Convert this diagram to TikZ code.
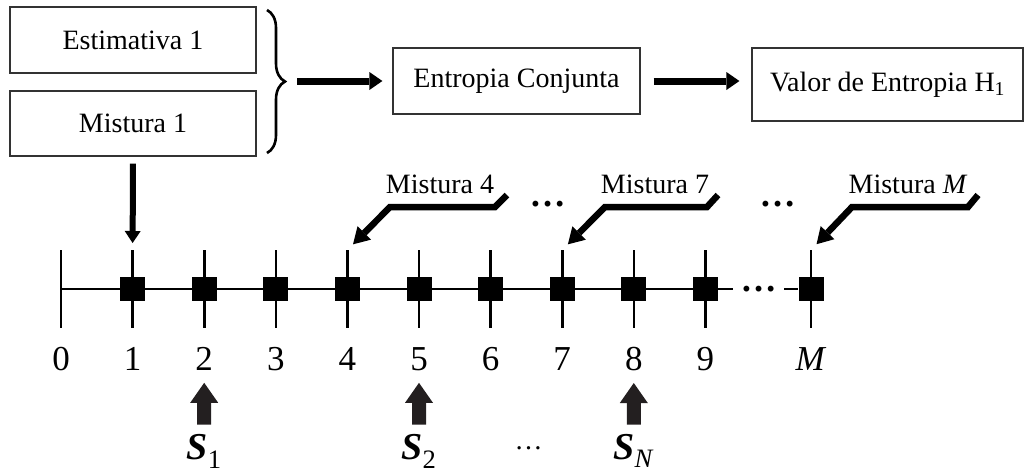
\documentclass[tikz,border=0pt]{standalone}
\usepackage{fontspec}
\setmainfont{Liberation Serif}
\usetikzlibrary{arrows.meta,%
                decorations.pathreplacing}
\definecolor{cinzaseta}{HTML}{231F20}

\begin{document}
\begin{tikzpicture}[x=1pt,y=-1pt,
    caixa/.style={draw=black!80,line width=1.2pt,inner sep=0pt,
                  font=\fontsize{28}{30}\selectfont},
    rotulo/.style={inner sep=0pt,font=\fontsize{28}{30}\selectfont},
    numero/.style={inner sep=0pt,font=\fontsize{35}{36}\selectfont},
    sinal/.style={inner sep=0pt,font=\fontsize{38}{40}\selectfont},
    pontos/.style={inner sep=0pt,font=\fontsize{36}{38}\selectfont\bfseries},
    marca/.style={fill=black,inner sep=0pt,minimum width=25pt,minimum height=24pt},
    eixo/.style={line width=2.6pt},
    seta/.style={line width=7pt,-{Triangle[length=13pt,width=18pt,line width=0pt]}},
    setafina/.style={line width=6pt,-{Triangle[length=12pt,width=16pt,line width=0pt]}},
    setadobra/.style={line width=6.5pt,line join=miter,
                      -{Triangle[length=16pt,width=19pt,line width=0pt]}},
    setabloco/.style={line width=14pt,draw=cinzaseta,
                      -{Triangle[length=20pt,width=28pt,line width=0pt]}}]

      \useasboundingbox (0,0) rectangle (1025,475);

      % caixas de cima
      \node[caixa,minimum width=246pt,minimum height=66pt] (est) at (133,40) {Estimativa 1};
      \node[caixa,minimum width=246pt,minimum height=65pt] (mis1) at (133,123.5) {Mistura 1};
      \node[caixa,minimum width=247pt,minimum height=66pt] (ent) at (516.5,81) {Entropia Conjunta};
      \node[caixa,minimum width=271pt,minimum height=73pt] (val) at (887.5,84.5)
           {Valor de Entropia H\textsubscript{1}};

      \draw[decorate,decoration={brace,amplitude=18pt},line width=2.6pt] (267,10) -- (267,153);
      \coordinate (chave) at (285,81);

      \draw[seta,shorten <=12pt,shorten >=10pt] (chave) -- (ent.west);
      \draw[seta,shorten <=13pt,shorten >=12pt] (ent.east) -- (val.west |- ent.east);

      % eixo
      \foreach \p in {0,...,9}
      {\coordinate (x\p) at ({61+71.6*\p},289);
       \coordinate (t\p) at ({61+71.6*\p},250);}
      \coordinate (xM) at (811,289);
      \coordinate (tM) at (811,250);

      \foreach \p in {0,1,2,3,4,5,6,7,8,9,M}
      \draw[eixo] (x\p) ++(0,-39) -- ++(0,78);
      \foreach \p in {1,2,3,4,5,6,7,8,9,M}
      \node[marca] (q\p) at (x\p) {};

      \node[pontos,inner xsep=7.5pt] (adots) at (758.5,289) {…};
      \draw[eixo] (x0) -- (adots.west);
      \draw[eixo] (adots.east) -- (qM);

      \foreach \p in {0,...,9}
      \node[numero] (n\p) at ({61+71.6*\p},359) {\p};
      \node[numero] (nM) at (811,359) {\textit{M}};

      \draw[setafina,shorten <=7pt,shorten >=7pt] (mis1.south) -- (t1);

      % misturas
      \node[rotulo,anchor=base] (m4) at (440,193) {Mistura 4};
      \node[rotulo,anchor=base] (m7) at (655,193) {Mistura 7};
      \node[rotulo,anchor=base] (mM) at (908,193) {Mistura \textit{M}};
      \coordinate (b4) at (507,195);
      \coordinate (b7) at (718,195);
      \coordinate (bM) at (978,195);
      \draw[setadobra,shorten >=8pt] (b4) -- ++(-12,12) -- (390,207) -- (t4);
      \draw[setadobra,shorten >=8pt] (b7) -- ++(-11,12) -- (605,207) -- (t7);
      \draw[setadobra,shorten >=8pt] (bM) -- ++(-10,12) -- (852,207) -- (tM);

      \node[pontos] (d1) at (547.5,204) {…};
      \node[pontos] (d2) at (777.5,204) {…};

      % sinais
      \node[sinal,anchor=base] (s1) at (204.2,459) {\textbf{\textit{S}}\textsubscript{1}};
      \node[sinal,anchor=base] (s2) at (419,459) {\textbf{\textit{S}}\textsubscript{2}};
      \node[sinal,anchor=base] (sN) at (633.8,459) {\textbf{\textit{S}}\textsubscript{\textit{N}}};
      \node[inner sep=0pt,font=\fontsize{28}{30}\selectfont] (sd) at (528.5,448) {…};

      \draw[setabloco,shorten <=9pt,shorten >=12pt] (s1.north) -- (n2.south);
      \draw[setabloco,shorten <=9pt,shorten >=12pt] (s2.north) -- (n5.south);
      \draw[setabloco,shorten <=9pt,shorten >=12pt] (sN.north) -- (n8.south);
\end{tikzpicture}
\end{document}
